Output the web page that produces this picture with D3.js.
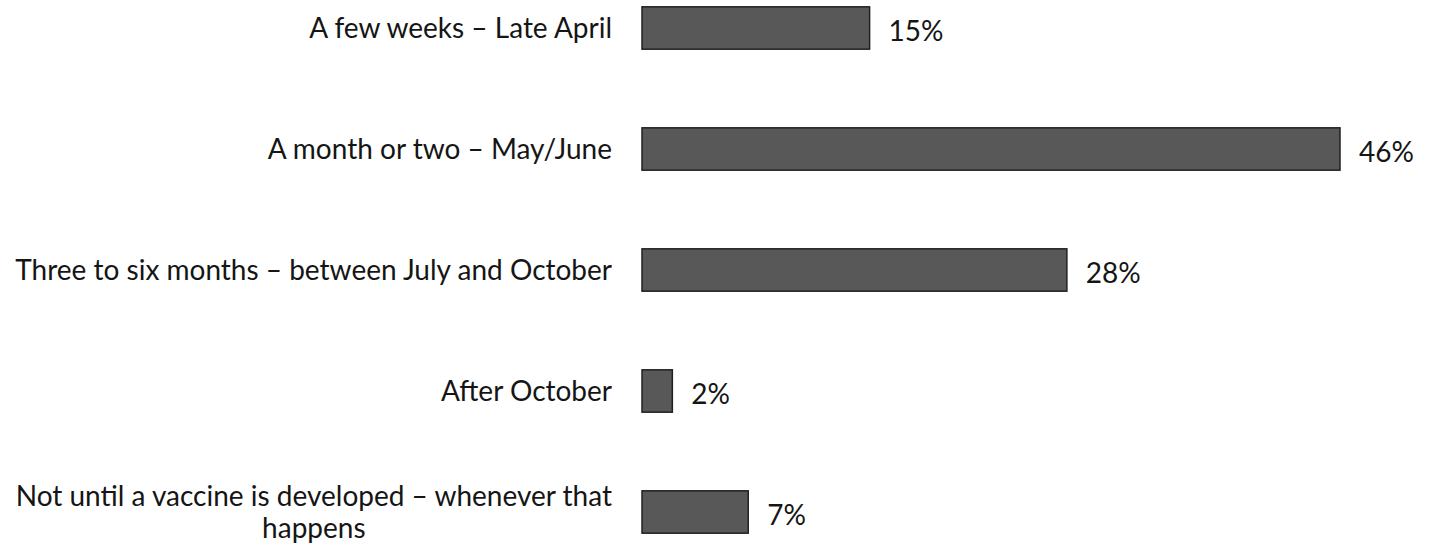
<!DOCTYPE html>
<html>
<head>
  <style>
    html, body { margin: 0; padding: 0; background: #fff; overflow: hidden; }
    .label, .value { font-family: Lato, "Open Sans", sans-serif; font-size: 28px; fill: #151515; }
    .bar { fill: #585858; stroke: #202020; stroke-width: 1.5; }
  </style>
  <script src="https://d3js.org/d3.v7.min.js"></script>
</head>
<body>
  <div id="chart"></div>
  <script>
    const categories = [
      ["A few weeks \u2013 Late April"],
      ["A month or two \u2013 May/June"],
      ["Three to six months \u2013 between July and October"],
      ["After October"],
      ["Not until a vaccine is developed \u2013 whenever that", "happens"]
    ];
    const values = [15, 46, 28, 2, 7];

    const width = 1434, height = 548;
    const x0 = 642, labelRight = 612;

    const svg = d3.select("#chart").append("svg")
      .attr("width", width)
      .attr("height", height);

    const y = d3.scaleBand()
      .domain(d3.range(values.length))
      .range([-32.5, 572.5])
      .paddingInner(0.65)
      .paddingOuter(0.325);

    const x = d3.scaleLinear()
      .domain([0, 46])
      .range([x0, 1340]);

    svg.selectAll(".bar")
      .data(values)
      .enter()
      .append("rect")
      .attr("class", "bar")
      .attr("x", x(0))
      .attr("y", (d, i) => y(i))
      .attr("width", d => x(d) - x(0))
      .attr("height", y.bandwidth());

    svg.selectAll(".value")
      .data(values)
      .enter()
      .append("text")
      .attr("class", "value")
      .attr("x", d => x(d) + 19)
      .attr("y", (d, i) => y(i) + y.bandwidth() / 2 + 13)
      .text(d => d + "%");

    // category labels, right aligned; wrapped ones centred on their widest line
    categories.forEach((lines, i) => {
      const cy = y(i) + y.bandwidth() / 2;
      const lh = 32;
      const g = svg.append("text").attr("class", "label");
      const tspans = lines.map((line, j) => g.append("tspan")
        .attr("y", cy + 10 - (lines.length - 1) * lh / 2 + j * lh)
        .text(line));
      if (lines.length === 1) {
        g.attr("text-anchor", "end");
        tspans[0].attr("x", labelRight);
      } else {
        const w = d3.max(tspans, t => t.node().getComputedTextLength());
        g.attr("text-anchor", "middle");
        tspans.forEach(t => t.attr("x", labelRight - w / 2));
      }
    });
  </script>
</body>
</html>
